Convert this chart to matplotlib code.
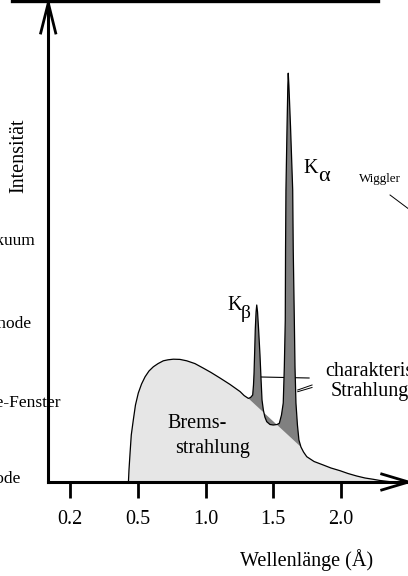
import numpy as np
import matplotlib
matplotlib.use("Agg")
import matplotlib.pyplot as plt
from matplotlib.lines import Line2D

plt.rcParams['font.family'] = ['Liberation Serif', 'DejaVu Serif']
plt.rcParams['mathtext.fontset'] = 'stix'

# ---------------- data ----------------
# Bremsstrahlung continuum (wavelength in Angstrom-positions, intensity arb. units)
brems_wl = [0.430, 0.434, 0.442, 0.451, 0.466, 0.482, 0.503, 0.527, 0.553, 0.582,
            0.614, 0.649, 0.688, 0.723, 0.762, 0.811, 0.861, 0.922, 0.982, 1.040,
            1.107, 1.181, 1.256, 1.286, 1.317,
            1.706, 1.725, 1.749, 1.803, 1.871, 1.928, 1.995, 2.054, 2.118, 2.180,
            2.241, 2.291, 2.340, 2.387]
brems_int = [0.0, 0.30, 0.725, 1.175, 1.55, 1.925, 2.225, 2.45, 2.63, 2.775,
             2.88, 2.96, 3.03, 3.055, 3.07, 3.065, 3.03, 2.96, 2.85, 2.74,
             2.60, 2.44, 2.26, 2.16, 2.09,
             0.875, 0.75, 0.6325, 0.5125, 0.425, 0.35, 0.2825, 0.2125, 0.15, 0.10,
             0.0675, 0.0375, 0.0175, 0.0]

# characteristic lines K_beta and K_alpha (outline between the two continuum foot points)
peak_wl = [1.317, 1.333, 1.349, 1.355, 1.359, 1.364, 1.368, 1.374, 1.379, 1.385,
           1.393, 1.403, 1.410, 1.418, 1.428, 1.439, 1.453, 1.477, 1.501, 1.529,
           1.546, 1.562, 1.575, 1.583, 1.590, 1.592, 1.595, 1.603, 1.609, 1.612,
           1.617, 1.629, 1.645, 1.649, 1.657, 1.662, 1.669, 1.680, 1.691, 1.706]
peak_int = [2.09, 2.1125, 2.175, 2.425, 2.72, 3.30, 3.80, 4.25, 4.425, 4.25,
            3.80, 3.175, 2.6325, 2.05, 1.80, 1.625, 1.5075, 1.4375, 1.425, 1.4375,
            1.4675, 1.675, 1.975, 2.875, 4.05, 5.80, 7.30, 8.875, 9.90, 10.22,
            9.90, 8.875, 7.30, 5.80, 4.05, 2.875, 1.975, 1.425, 1.05, 0.875]

tick_pos = [0.0, 0.5, 1.0, 1.5, 2.0]
tick_labels = ["0.2", "0.5", "1.0", "1.5", "2.0"]

# ---------------- figure ----------------
W, H = 408, 576
fig = plt.figure(figsize=(W / 100, H / 100), dpi=100)

def fx(px):
    return px / W

def fy(py):
    return 1 - py / H

ax = fig.add_axes([fx(48), fy(482), (408 - 48) / W, (482 - 4) / H])
ax.set_xlim((48 - 70.3) / 135.2, (408 - 70.3) / 135.2)
ax.set_ylim(0, (482 - 4) / 40)
ax.patch.set_alpha(0)

# fills
ax.fill(brems_wl, brems_int, facecolor='#e6e6e6', edgecolor='none', zorder=1)
ax.fill(peak_wl, peak_int, facecolor='#808080', edgecolor='none', zorder=3)

# outline: continuum up to the K_beta foot, the peaks, then the tail
i_foot = brems_wl.index(1.317)
i_tail = brems_wl.index(1.706)
out_wl = brems_wl[:i_foot] + peak_wl + brems_wl[i_tail + 1:]
out_int = brems_int[:i_foot] + peak_int + brems_int[i_tail + 1:]
ax.plot(out_wl, out_int, color='black', lw=0.9, zorder=4, solid_joinstyle='round')

# leader lines to "charakteristische Strahlung"
ax.plot([1.41, 1.766], [2.625, 2.60], color='black', lw=0.8, zorder=2)
ax.plot([1.682, 1.788], [2.30, 2.425], color='black', lw=0.7, zorder=2, clip_on=False)
ax.plot([1.682, 1.788], [2.2575, 2.3625], color='black', lw=0.7, zorder=2, clip_on=False)
# Wiggler pointer
ax.plot([2.365, 2.513], [7.175, 6.80], color='black', lw=0.7, zorder=2, clip_on=False)

# axes
for s in ['top', 'right']:
    ax.spines[s].set_visible(False)
for s in ['left', 'bottom']:
    ax.spines[s].set_linewidth(2.2)
    ax.spines[s].set_zorder(5)
ax.set_yticks([])
ax.set_xticks(tick_pos, tick_labels)
ax.tick_params(axis='x', direction='out', length=11.5, width=2.0, pad=9, labelsize=14.5)

# arrow heads
fig.add_artist(Line2D([fx(40.7), fx(48.3), fx(55.7)], [fy(33), fy(3.0), fy(33)],
                      transform=fig.transFigure, color='black', lw=2.0))
fig.add_artist(Line2D([fx(381.7), fx(408.5), fx(381.7)], [fy(474), fy(482), fy(490)],
                      transform=fig.transFigure, color='black', lw=2.0))
# top border fragment
fig.add_artist(Line2D([fx(12), fx(378)], [fy(1.2), fy(1.2)],
                      transform=fig.transFigure, color='black', lw=2.4))

# texts
fs = 14.5
fs_left = 12.5
fig.text(fx(19), fy(156), "Intensität", rotation=90, ha='center', va='center', fontsize=fs)
fig.text(fx(240), fy(566), "Wellenlänge (Å)", ha='left', va='baseline', fontsize=fs)
fig.text(fx(167), fy(428), "Brems-", ha='left', va='baseline', fontsize=fs)
fig.text(fx(175), fy(453), "strahlung", ha='left', va='baseline', fontsize=fs)
fig.text(fx(303), fy(173), "K", ha='left', va='baseline', fontsize=fs)
fig.text(fx(318), fy(181), "α", ha='left', va='baseline', fontsize=16)
fig.text(fx(227.7), fy(310), "K", ha='left', va='baseline', fontsize=fs)
fig.text(fx(241), fy(318), "β", ha='left', va='baseline', fontsize=14)
fig.text(fx(359), fy(182), "Wiggler", ha='left', va='baseline', fontsize=9.4)
fig.text(fx(325), fy(376), "charakteristische", ha='left', va='baseline', fontsize=fs)
fig.text(fx(331), fy(396), "Strahlung", ha='left', va='baseline', fontsize=fs)
fig.text(fx(35.7), fy(245), "Vakuum", ha='right', va='baseline', fontsize=fs_left)
fig.text(fx(31.7), fy(328), "Kathode", ha='right', va='baseline', fontsize=fs_left)
fig.text(fx(61), fy(407), "Be-Fenster", ha='right', va='baseline', fontsize=fs_left, zorder=0)
fig.text(fx(21), fy(483), "Anode", ha='right', va='baseline', fontsize=fs_left)

fig.savefig("out.png", dpi=100)
